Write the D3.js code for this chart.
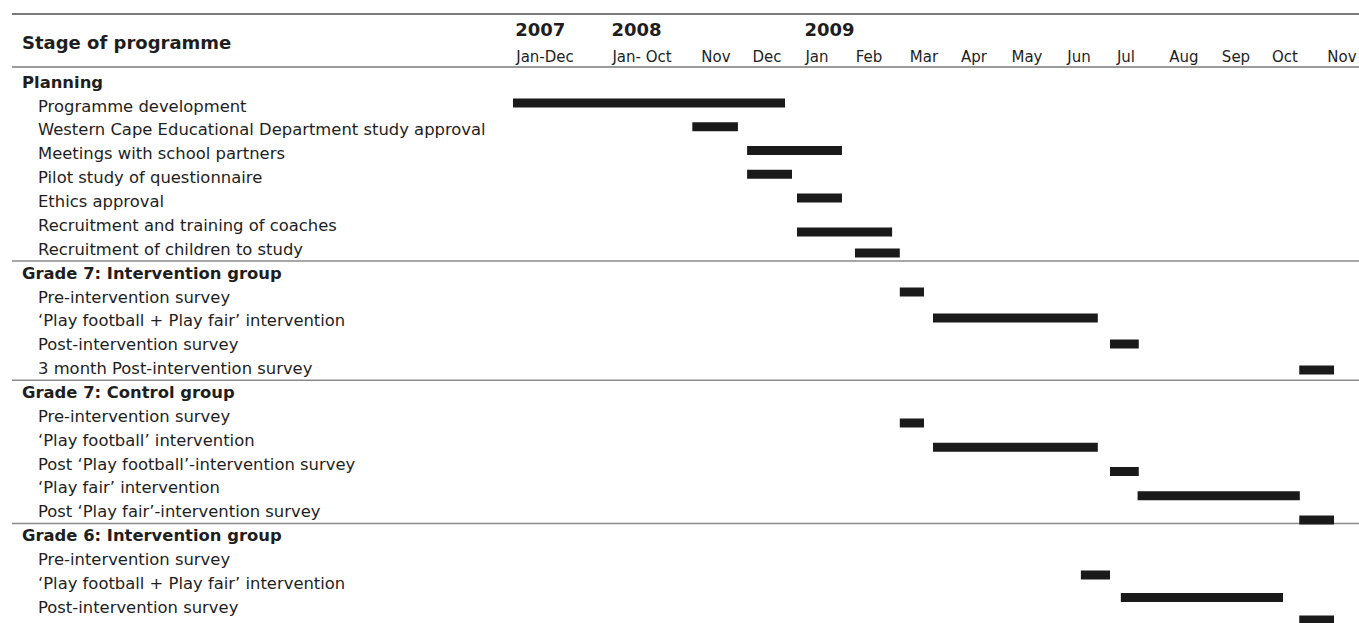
<!DOCTYPE html>
<html>
<head>
<meta charset="utf-8">
<script src="https://cdn.jsdelivr.net/npm/d3@7"></script>
<style>
  html, body { margin: 0; padding: 0; background: #fff; }
  svg { display: block; }
  text { font-family: "DejaVu Sans", Verdana, sans-serif; fill: #1e1e1e; }
</style>
</head>
<body>
<svg id="chart" width="1359" height="623"></svg>
<script>
// ---------------- DATA ----------------
const headerTitle = "Stage of programme";
const columns = ["Jan-Dec", "Jan- Oct", "Nov", "Dec", "Jan", "Feb", "Mar", "Apr", "May", "Jun", "Jul", "Aug", "Sep", "Oct", "Nov"];
const yearLabels = ["2007", "2008", "2009"];
const yearColumns = [0, 1, 4];

const groupNames = ["Planning", "Grade 7: Intervention group", "Grade 7: Control group", "Grade 6: Intervention group"];

const planningTasks = ["Programme development", "Western Cape Educational Department study approval", "Meetings with school partners", "Pilot study of questionnaire", "Ethics approval", "Recruitment and training of coaches", "Recruitment of children to study"];
const planningStart = [-0.33, 1.68, 2.61, 2.61, 3.60, 3.60, 4.73];
const planningEnd   = [ 3.36, 2.43, 4.48, 3.50, 4.48, 5.42, 5.56];

const g7InterventionTasks = ["Pre-intervention survey", "\u2018Play football + Play fair\u2019 intervention", "Post-intervention survey", "3 month Post-intervention survey"];
const g7InterventionStart = [5.56, 6.18, 9.66, 13.25];
const g7InterventionEnd   = [6.00, 9.40, 10.22, 13.86];

const g7ControlTasks = ["Pre-intervention survey", "\u2018Play football\u2019 intervention", "Post \u2018Play football\u2019-intervention survey", "\u2018Play fair\u2019 intervention", "Post \u2018Play fair\u2019-intervention survey"];
const g7ControlStart = [5.56, 6.18, 9.66, 10.20, 13.25];
const g7ControlEnd   = [6.00, 9.40, 10.22, 13.26, 13.86];

const g6InterventionTasks = ["Pre-intervention survey", "\u2018Play football + Play fair\u2019 intervention", "Post-intervention survey"];
const g6InterventionStart = [9.04, 9.89, 13.25];
const g6InterventionEnd   = [9.66, 12.96, 13.86];

// ---------------- LAYOUT ----------------
const W = 1359, H = 623;
const colCentres = [545, 642, 716, 767, 817, 869, 924, 974, 1027, 1079, 1126, 1184, 1236, 1285, 1342];
const x = d3.scaleLinear().domain(d3.range(columns.length)).range(colCentres);

const groupTasks = [
  [planningTasks, planningStart, planningEnd],
  [g7InterventionTasks, g7InterventionStart, g7InterventionEnd],
  [g7ControlTasks, g7ControlStart, g7ControlEnd],
  [g6InterventionTasks, g6InterventionStart, g6InterventionEnd]
];

// flatten rows
const rows = [];
const separators = [];
groupNames.forEach((g, gi) => {
  if (gi > 0) separators.push(rows.length - 0.5);
  rows.push({ type: "group", label: g });
  const [names, st, en] = groupTasks[gi];
  names.forEach((n, i) => rows.push({ type: "task", label: n, start: st[i], end: en[i] }));
});

const yLab = d3.scaleLinear().domain([0, rows.length - 1]).range([82, 607]);
// bar rows in the original drift slightly from the label rows
const yBar = d3.scaleLinear()
  .domain([1, 5, 6, 7, 9, 12, 14, 18, 20, 22])
  .range([103, 198, 232, 253, 292, 370, 423, 520, 575, 620]);
const barH = 9;

const svg = d3.select("#chart");

// horizontal rules
svg.append("line").attr("x1", 12).attr("x2", W).attr("y1", 14).attr("y2", 14)
  .attr("stroke", "#7a7a7a").attr("stroke-width", 2);
svg.append("line").attr("x1", 12).attr("x2", W).attr("y1", 67).attr("y2", 67)
  .attr("stroke", "#7a7a7a").attr("stroke-width", 1.6);
separators.forEach(s => {
  const yy = (yLab(s - 0.5) + yLab(s + 0.5)) / 2;
  svg.append("line").attr("x1", 12).attr("x2", W).attr("y1", yy).attr("y2", yy)
    .attr("stroke", "#8a8a8a").attr("stroke-width", 1.5);
});

// header
svg.append("text").attr("x", 22).attr("y", 43).attr("dy", "0.35em")
  .attr("font-size", 18).attr("font-weight", "bold").text(headerTitle);

const monthText = svg.append("g").selectAll("text").data(columns).join("text")
  .attr("x", (d, i) => x(i)).attr("y", 57).attr("dy", "0.35em")
  .attr("text-anchor", "middle").attr("font-size", 15).text(d => d);

const monthNodes = monthText.nodes();
yearLabels.forEach((yl, i) => {
  const bb = monthNodes[yearColumns[i]].getBBox();
  svg.append("text").attr("x", bb.x).attr("y", 30).attr("dy", "0.35em")
    .attr("font-size", 18).attr("font-weight", "bold").text(yl);
});

// row labels
svg.append("g").selectAll("text").data(rows).join("text")
  .attr("x", d => d.type === "group" ? 22 : 38)
  .attr("y", (d, i) => yLab(i)).attr("dy", "0.35em")
  .attr("font-size", 16.4)
  .attr("font-weight", d => d.type === "group" ? "bold" : "normal")
  .text(d => d.label);

// bars
const taskRows = rows.map((d, i) => Object.assign({ idx: i }, d)).filter(d => d.type === "task");
svg.append("g").selectAll("rect").data(taskRows).join("rect")
  .attr("x", d => x(d.start))
  .attr("width", d => x(d.end) - x(d.start))
  .attr("y", d => yBar(d.idx) - barH / 2)
  .attr("height", barH)
  .attr("fill", "#1a1a1a");
</script>
</body>
</html>
